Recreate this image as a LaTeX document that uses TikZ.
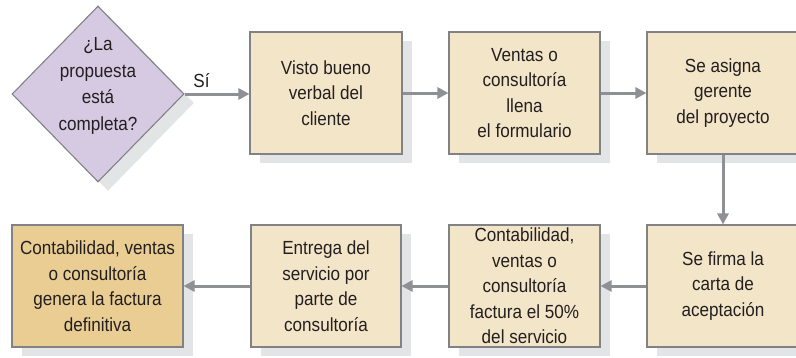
\documentclass[tikz,border=0pt]{standalone}
\usepackage{fontspec}
\setmainfont{Liberation Sans}[FakeStretch=0.9]
\usetikzlibrary{shapes.geometric,shadows,arrows.meta}
\definecolor{boxfill}{HTML}{F3E5C7}
\definecolor{finalfill}{HTML}{E9CD92}
\definecolor{diafill}{HTML}{D5CAE2}
\definecolor{bordergray}{HTML}{808285}
\definecolor{shadowgray}{HTML}{E3E4E6}
\definecolor{arrowgray}{HTML}{8E9094}
\definecolor{txt}{HTML}{231F20}
\begin{document}
\begin{tikzpicture}[x=1pt,y=-1pt,
  txtstyle/.style={text=txt,font=\fontsize{19}{25.5}\selectfont,align=center},
  flowbox/.style={rectangle,draw=bordergray,line width=1.1pt,fill=boxfill,
    minimum height=122pt,inner sep=0pt,txtstyle,
    drop shadow={shadow xshift=10pt,shadow yshift=-9pt,fill=shadowgray,opacity=1}},
  finalbox/.style={flowbox,fill=finalfill},
  decision/.style={diamond,draw=bordergray,line width=1.1pt,fill=diafill,
    minimum width=172pt,minimum height=176pt,inner sep=0pt,
    drop shadow={shadow xshift=10pt,shadow yshift=-9pt,fill=shadowgray,opacity=1}},
  flowarrow/.style={draw=arrowgray,line width=3pt,-{Triangle[length=11pt,width=11pt]}}
]
\useasboundingbox (0,0) rectangle (796,357);
\node[decision] (d) at (98,94) {};
\node[txtstyle,font=\fontsize{19}{26.5}\selectfont] (dq) at (98,86) {¿La\\propuesta\\está\\completa?};
\node[flowbox,minimum width=152pt] (b1) at (326,93) {Visto bueno\\verbal del\\cliente};
\node[flowbox,minimum width=151pt] (b2) at (524.5,93) {Ventas o\\consultoría\\llena\\el formulario};
\node[flowbox,minimum width=152pt] (b3) at (723,93) {Se asigna\\gerente\\del proyecto};
\node[flowbox,minimum width=152pt] (b4) at (723,286) {Se firma la\\carta de\\aceptación};
\node[flowbox,minimum width=151pt] (b5) at (524.5,286) {Contabilidad,\\ventas o\\consultoría\\factura el 50\%\\del servicio};
\node[flowbox,minimum width=150pt] (b6) at (326,286) {Entrega del\\servicio por\\parte de\\consultoría};
\node[finalbox,minimum width=171pt] (b7) at (97.5,286) {Contabilidad, ventas\\o consultoría\\genera la factura\\definitiva};
\draw[flowarrow] (d.east) -- node[txtstyle,pos=0.26,above=1pt] (si) {Sí} (d.east -| b1.west);
\draw[flowarrow] (b1) -- (b2);
\draw[flowarrow] (b2) -- (b3);
\draw[flowarrow] (b3) -- (b4);
\draw[flowarrow] (b4) -- (b5);
\draw[flowarrow] (b5) -- (b6);
\draw[flowarrow] (b6) -- (b7);
\end{tikzpicture}
\end{document}
